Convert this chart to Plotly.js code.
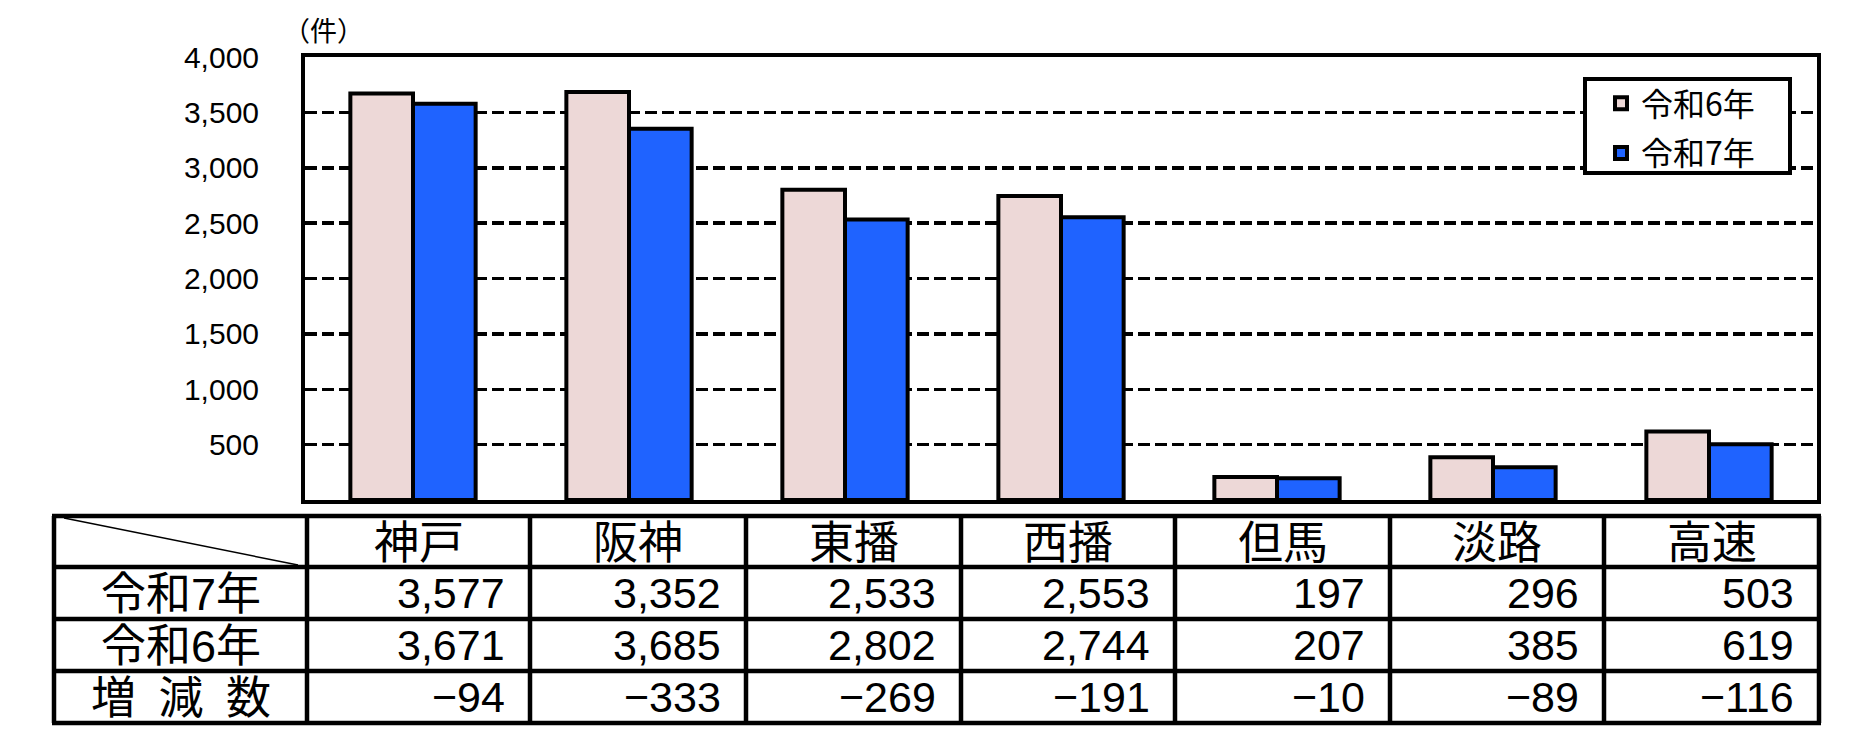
<!DOCTYPE html>
<html>
<head>
<meta charset="utf-8">
<script src="https://cdn.plot.ly/plotly-3.0.1.min.js"></script>
<style>
  html, body { margin: 0; padding: 0; background: #ffffff; }
  #chart { width: 1851px; height: 739px; }
</style>
</head>
<body>
<div id="chart"></div>
<script>
// ---- data ----
const categories = ['神戸', '阪神', '東播', '西播', '但馬', '淡路', '高速'];
const seriesNames = ['令和6年', '令和7年'];
const r6Values = [3671, 3685, 2802, 2744, 207, 385, 619];
const r7Values = [3577, 3352, 2533, 2553, 197, 296, 503];
const diffValues = [-94, -333, -269, -191, -10, -89, -116];
const rowLabels = ['令和7年', '令和6年', '増\u2002減\u2002数'];
const yTickVals = [500, 1000, 1500, 2000, 2500, 3000, 3500, 4000];
const unitLabel = '（件）';

// ---- layout geometry (pixels) ----
const W = 1851, H = 739;
const plotL = 305, plotR = 1817, plotT = 57, plotB = 500;
const px2x = p => (p - plotL) / (plotR - plotL);
const px2y = p => (plotB - p) / (plotB - plotT);
const tableLeft = 54;
const colEdges = [307, 530, 746, 961, 1175, 1390, 1604, 1819];
const rowEdges = [516, 567, 619, 671, 723];

const fmt = v => (v < 0 ? '\u2212' : '') + Math.abs(v).toLocaleString('en-US');
const jp = 'Noto Sans CJK JP, Noto Sans, sans-serif';
const latin = 'Liberation Sans, Arial, sans-serif';
const tableFont = 'Liberation Sans, Noto Sans CJK JP, sans-serif';

const traces = [
  {
    type: 'bar', name: seriesNames[0], x: categories, y: r6Values,
    legendgroup: 'a',
    marker: { color: '#EDD8D7', line: { color: '#000000', width: 4 } },
    hoverinfo: 'skip'
  },
  {
    type: 'bar', name: seriesNames[1], x: categories, y: r7Values,
    legendgroup: 'b',
    marker: { color: '#1F63FF', line: { color: '#000000', width: 4 } },
    hoverinfo: 'skip'
  }
];

const shapes = [];
const annotations = [];

// legend frame (covers the grid, under the legend itself)
shapes.push({
  type: 'rect', xref: 'paper', yref: 'paper',
  x0: px2x(1585), x1: px2x(1790), y0: px2y(173), y1: px2y(79),
  line: { color: '#000', width: 4 }, fillcolor: '#ffffff', layer: 'above'
});

// table frame
const tW = 4.5;
rowEdges.forEach((r, i) => {
  shapes.push({ type: 'line', xref: 'paper', yref: 'paper',
    x0: px2x(tableLeft - 2), x1: px2x(colEdges[colEdges.length - 1] + 2),
    y0: px2y(r), y1: px2y(r), line: { color: '#000', width: tW } });
});
[tableLeft].concat(colEdges).forEach(c => {
  shapes.push({ type: 'line', xref: 'paper', yref: 'paper',
    x0: px2x(c), x1: px2x(c),
    y0: px2y(rowEdges[0]), y1: px2y(rowEdges[rowEdges.length - 1]),
    line: { color: '#000', width: tW } });
});
// diagonal in header corner
shapes.push({ type: 'line', xref: 'paper', yref: 'paper',
  x0: px2x(64), y0: px2y(518), x1: px2x(298), y1: px2y(565),
  line: { color: '#000', width: 1.5 } });

// header texts
categories.forEach((c, i) => {
  annotations.push({
    xref: 'paper', yref: 'paper',
    x: px2x((colEdges[i] + colEdges[i + 1]) / 2),
    y: px2y(543),
    text: c, showarrow: false, xanchor: 'center', yanchor: 'middle',
    borderpad: 0,
    font: { family: tableFont, size: 45, color: '#000' }
  });
});
// row labels + values
const rows = [r7Values, r6Values, diffValues];
rows.forEach((vals, ri) => {
  const yMid = (rowEdges[ri + 1] + rowEdges[ri + 2]) / 2;
  annotations.push({
    xref: 'paper', yref: 'paper',
    x: px2x((tableLeft + colEdges[0]) / 2), y: px2y(yMid + 1.5),
    text: rowLabels[ri], showarrow: false, xanchor: 'center', yanchor: 'middle',
    borderpad: 0,
    font: { family: tableFont, size: 45, color: '#000' }
  });
  vals.forEach((v, ci) => {
    annotations.push({
      xref: 'paper', yref: 'paper',
      x: px2x(colEdges[ci + 1] - 24), y: px2y(yMid),
      text: fmt(v), showarrow: false, xanchor: 'right', yanchor: 'middle',
      borderpad: 0,
      font: { family: tableFont, size: 43, color: '#000' }
    });
  });
});
// unit label
annotations.push({
  xref: 'paper', yref: 'paper', x: px2x(323), y: px2y(29),
  text: unitLabel, showarrow: false, xanchor: 'center', yanchor: 'middle',
  font: { family: jp, size: 27, color: '#000' }
});

const layout = {
  width: W, height: H,
  margin: { l: plotL, r: W - plotR, t: plotT, b: H - plotB, pad: 0 },
  paper_bgcolor: '#ffffff', plot_bgcolor: '#ffffff',
  barmode: 'group', bargap: 0.42, bargroupgap: 0,
  showlegend: true,
  legend: {
    x: px2x(1601), y: px2y(76), xanchor: 'left', yanchor: 'top',
    bgcolor: 'rgba(0,0,0,0)', borderwidth: 0,
    traceorder: 'grouped', tracegroupgap: 5,
    font: { family: jp, size: 32, color: '#000' }
  },
  xaxis: {
    type: 'category', range: [-0.5, categories.length - 0.5],
    showticklabels: false, ticks: '', showgrid: false, zeroline: false,
    showline: true, mirror: true, linecolor: '#000', linewidth: 4
  },
  yaxis: {
    range: [0, 4000], tickvals: yTickVals, tickformat: ',',
    ticks: '', ticklabelstandoff: 36,
    tickfont: { family: latin, size: 30, color: '#000' },
    showgrid: true, gridcolor: '#000', gridwidth: 3.5, griddash: '12px,5px',
    zeroline: false,
    showline: true, mirror: true, linecolor: '#000', linewidth: 4
  },
  shapes: shapes,
  annotations: annotations
};

Plotly.newPlot('chart', traces, layout, { staticPlot: true, displayModeBar: false });
</script>
</body>
</html>
